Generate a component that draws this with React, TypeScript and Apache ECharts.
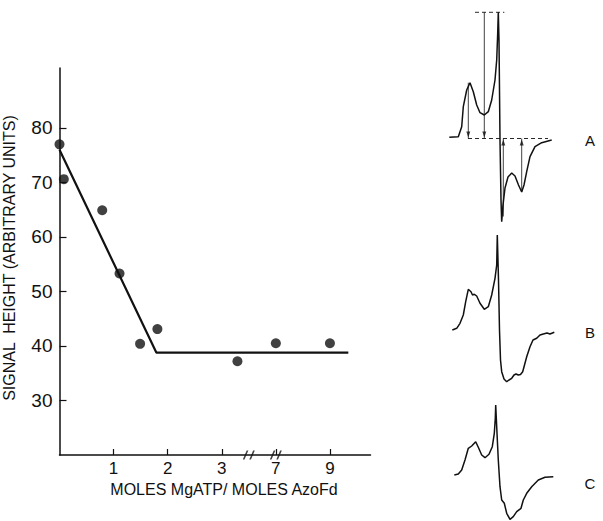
import React, { useEffect, useRef } from "react";
import * as echarts from "echarts";

// ---- Main plot data (x in moles MgATP / moles AzoFd, y in arbitrary units) ----
const molesRatio = [0, 0.08, 0.79, 1.11, 1.49, 1.81, 3.29, 7, 9];
const signalHeight = [77, 70.6, 64.9, 53.3, 40.4, 43.1, 37.2, 40.5, 40.5];
const fitRatio = [0, 1.79, 9.34];
const fitHeight = [76, 38.8, 38.8];
const xTickValues = [1, 2, 3, 7, 9];
const yTickValues = [30, 40, 50, 60, 70, 80];
const breakMarks = [3.5, 8]; // real-unit positions of the "//" axis breaks

// ---- EPR spectra traces [field (arb.), signal (arb.)] ----
const spectrumA = [
  [4.3, 1.2], [13.3, 1.8], [16.7, 11.8], [18.3, 31.8], [21.7, 48.5], [25, 55.8],
  [28.3, 46.8], [31.7, 33.5], [35, 25.8], [39.3, 23.5], [43.3, 26.8], [46.7, 38.5],
  [50, 58.5], [51.7, 78.5], [52.7, 105.2], [53.3, 126.2], [54, 98.5], [55, -1.5],
  [56, -61.5], [56.7, -83.2], [58, -66.5], [60, -49.5], [63, -38.5], [66.7, -34.5],
  [70, -37.5], [73.5, -46.5], [76.7, -53.5], [79, -46.5], [81.7, -33.2], [85, -18.2],
  [90, -8.2], [96.7, -4.2], [106.7, -1.5],
];
const spectrumB = [
  [7.3, 0], [11.7, 1.7], [15, 6.7], [18.3, 15], [20.7, 28.3], [23.3, 40.7], [26, 38.3],
  [27.5, 35], [29.3, 35.7], [31.7, 34], [35, 26.7], [39.3, 20.7], [43.3, 23.3],
  [46.7, 35], [50, 51.7], [51.7, 65], [52.3, 95], [53.5, 50], [54.5, 0], [55.5, -30],
  [56.7, -41.7], [59, -49], [61.7, -51.7], [64, -50], [66.7, -48.3], [69, -45],
  [71, -44], [73.3, -45], [75.5, -44.5], [77.7, -41.7], [79.5, -35], [81.7, -26.7],
  [85, -16.7], [88, -10], [91.7, -8.3], [95, -5], [98.3, -4], [102, -3], [105, -4],
  [109.3, -2.3],
];
const spectrumC = [
  [9.3, 0], [13.3, 1], [16.7, 5], [20, 15], [23.3, 26.7], [26.7, 29], [30.7, 33.3],
  [33.3, 27.7], [36.7, 20], [40, 17.3], [44, 20.7], [47.3, 28.3], [49.3, 41.7],
  [50.3, 56.7], [50.7, 70], [51.7, 48.3], [53.3, 15], [55, -11.7], [56.7, -25],
  [59.3, -28.3], [61.7, -38.3], [65, -44.3], [68.3, -41.7], [71.7, -36.7], [76, -33.3],
  [78.3, -25], [81.7, -18.3], [86.7, -11.7], [93.3, -5], [100, -2.3], [108.3, -1.7],
];
// Reference guides on spectrum A
const guideTop = [[30, 126.2], [59.3, 126.2]];
const guideBase = [[23, 0], [103, 0]];
const arrowsAbove = [[23.3, 55.8], [39.3, 126.2]]; // [field, top signal]
const arrowsBelow = [[58.3, -78], [76.7, -53]]; // [field, bottom signal]
const spectrumLabels = ["A", "B", "C"];

// Axis transform for the broken x axis (0..3.5 | 6.5..7.5 | 8.5..)
function toAxis(x: number): number {
  if (x <= 3.5) return x;
  if (x <= 7.5) return x - 3;
  return x - 4;
}

const INK = "#111";
const FONT = "Liberation Sans";
const slashPath =
  "path://M0,10 L3.2,0 L4.6,0 L1.4,10 Z M5.4,10 L8.6,0 L10,0 L6.8,10 Z";

export default function App() {
  const ref = useRef<HTMLDivElement>(null);

  useEffect(() => {
    if (!ref.current) return;
    const chart = echarts.init(ref.current, null, { renderer: "svg" });

    const specGrid = (top: number, height: number) => ({
      left: 445,
      width: 115,
      top,
      height,
      outerBoundsMode: "none",
    });
    const hiddenX = (gridIndex: number) => ({
      type: "value",
      gridIndex,
      min: 0,
      max: 115,
      show: false,
    });
    const hiddenY = (gridIndex: number, min: number, max: number) => ({
      type: "value",
      gridIndex,
      min,
      max,
      show: false,
    });
    const trace = (data: number[][], idx: number, extra: any = {}) => ({
      type: "line",
      xAxisIndex: idx,
      yAxisIndex: idx,
      data,
      showSymbol: false,
      symbol: "none",
      silent: true,
      clip: false,
      lineStyle: { color: INK, width: 1.5, ...(extra.lineStyle || {}) },
    });

    const arrowSeries: any[] = [];
    arrowsAbove.forEach(([f, s]) => {
      arrowSeries.push(trace([[f, s], [f, 0]], 1, { lineStyle: { width: 0.8 } }));
    });
    arrowsBelow.forEach(([f, s]) => {
      arrowSeries.push(trace([[f, s], [f, 0]], 1, { lineStyle: { width: 0.8 } }));
    });

    chart.setOption({
      animation: false,
      backgroundColor: "#fff",
      textStyle: { fontFamily: FONT, color: INK },
      grid: [
        { left: 59.5, top: 68, width: 311, height: 387, outerBoundsMode: "none" },
        specGrid(8, 220),
        specGrid(228, 160),
        specGrid(395, 126),
      ],
      xAxis: [
        {
          type: "value",
          gridIndex: 0,
          min: 0,
          max: 5.75,
          splitLine: { show: false },
          axisLine: { show: true, lineStyle: { color: INK, width: 1.5 } },
          axisTick: {
            show: true,
            inside: true,
            length: 6,
            lineStyle: { color: INK, width: 1.2 },
            customValues: xTickValues.map(toAxis),
          },
          axisLabel: {
            color: INK,
            fontFamily: FONT,
            fontSize: 17,
            margin: 5,
            customValues: xTickValues.map(toAxis),
            formatter: (v: number) => {
              const i = xTickValues.map(toAxis).findIndex((p) => Math.abs(p - v) < 1e-6);
              return i >= 0 ? String(xTickValues[i]) : "";
            },
          },
          name: "MOLES MgATP/ MOLES AzoFd",
          nameLocation: "middle",
          nameGap: 26,
          nameTextStyle: { color: INK, fontFamily: FONT, fontSize: 16, padding: [0, 0, 0, 18] },
        },
        hiddenX(1),
        hiddenX(2),
        hiddenX(3),
      ],
      yAxis: [
        {
          type: "value",
          gridIndex: 0,
          min: 20,
          max: 91,
          splitLine: { show: false },
          axisLine: { show: true, lineStyle: { color: INK, width: 1.5 } },
          axisTick: {
            show: true,
            inside: true,
            length: 7,
            lineStyle: { color: INK, width: 1.2 },
            customValues: yTickValues,
          },
          axisLabel: {
            color: INK,
            fontFamily: FONT,
            fontSize: 19,
            margin: 7,
            customValues: yTickValues,
          },
          name: "SIGNAL  HEIGHT (ARBITRARY UNITS)",
          nameLocation: "middle",
          nameGap: 42,
          nameRotate: 90,
          nameTextStyle: { color: INK, fontFamily: FONT, fontSize: 16, padding: [0, 0, 0, 7] },
        },
        hiddenY(1, -89.5, 130.5),
        hiddenY(2, -58, 102),
        hiddenY(3, -46, 80),
      ],
      series: [
        {
          type: "line",
          xAxisIndex: 0,
          yAxisIndex: 0,
          data: fitRatio.map((x, i) => [toAxis(x), fitHeight[i]]),
          symbol: "none",
          lineStyle: { color: INK, width: 2.2 },
          silent: true,
        },
        {
          type: "scatter",
          xAxisIndex: 0,
          yAxisIndex: 0,
          data: molesRatio.map((x, i) => [toAxis(x), signalHeight[i]]),
          symbol: "circle",
          symbolSize: 10,
          itemStyle: { color: INK },
          silent: true,
        },
        {
          type: "scatter",
          xAxisIndex: 0,
          yAxisIndex: 0,
          data: breakMarks.map((x) => [toAxis(x), 20]),
          symbol: slashPath,
          symbolSize: [12, 9],
          itemStyle: { color: INK },
          silent: true,
          clip: false,
        },
        trace(spectrumA, 1),
        trace(spectrumB, 2),
        trace(spectrumC, 3),
        trace(guideTop, 1, { lineStyle: { width: 0.9, type: [4, 3] } }),
        trace(guideBase, 1, { lineStyle: { width: 0.9, type: [4, 3] } }),
        ...arrowSeries,
        {
          type: "scatter",
          xAxisIndex: 1,
          yAxisIndex: 1,
          data: arrowsAbove.map(([f]) => [f, 4]),
          symbol: "triangle",
          symbolRotate: 180,
          symbolSize: [4, 6],
          itemStyle: { color: INK },
          silent: true,
        },
        {
          type: "scatter",
          xAxisIndex: 1,
          yAxisIndex: 1,
          data: arrowsBelow.map(([f]) => [f, -4]),
          symbol: "triangle",
          symbolSize: [4, 6],
          itemStyle: { color: INK },
          silent: true,
        },
      ],
      graphic: spectrumLabels.map((t, i) => ({
        type: "text",
        x: 590,
        y: [140, 332, 483][i],
        style: {
          text: t,
          fontFamily: FONT,
          fontSize: 15,
          fill: INK,
          align: "center",
          verticalAlign: "middle",
        },
      })),
    });

    return () => chart.dispose();
  }, []);

  return (
    <div
      ref={ref}
      style={{ position: "fixed", left: 0, top: 0, width: 603, height: 521, background: "#fff" }}
    />
  );
}
